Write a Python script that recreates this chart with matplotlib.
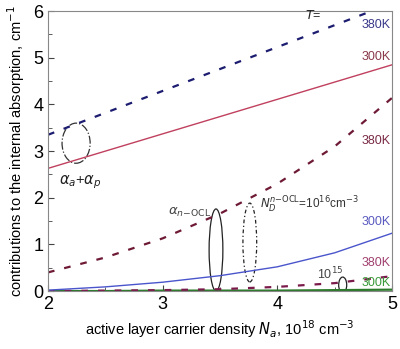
import numpy as np
import matplotlib.pyplot as plt
from matplotlib.patches import Ellipse

plt.rcParams['font.family'] = ['Liberation Sans', 'DejaVu Sans']
plt.rcParams['mathtext.fontset'] = 'dejavusans'

# --- Data ---
n_a = [2.0, 2.5, 3.0, 3.5, 4.0, 4.5, 5.0]

# alpha_a + alpha_p
ap_380 = [3.35, 3.82, 4.29, 4.76, 5.23, 5.70, 6.17]
ap_300 = [2.63, 3.00, 3.37, 3.74, 4.11, 4.48, 4.85]

# alpha_n-OCL, N_D = 1e16
nocl16_380 = [0.40, 0.72, 1.13, 1.66, 2.30, 3.10, 4.14]
nocl16_300 = [0.02, 0.09, 0.19, 0.33, 0.52, 0.82, 1.24]

# alpha_n-OCL, N_D = 1e15
nocl15_380 = [0.00, 0.01, 0.02, 0.04, 0.09, 0.17, 0.32]
nocl15_300 = [0.00, 0.00, 0.01, 0.01, 0.01, 0.02, 0.03]

fig = plt.figure(figsize=(4.0, 3.49), dpi=100)
ax = fig.add_axes([0.12, 0.166, 0.86, 0.802])

ax.plot(n_a, nocl15_300, color='#2a7a2a', lw=1.6)
ax.plot(n_a, nocl15_380, color='#7a1a4a', lw=1.6, dashes=(3, 4.5))
ax.plot(n_a, nocl16_300, color='#4a55cc', lw=1.0)
ax.plot(n_a, nocl16_380, color='#6e1a35', lw=1.6, dashes=(3, 4.5))
ax.plot(n_a, ap_300, color='#c0405e', lw=1.0)
ax.plot(n_a, ap_380, color='#1c1c70', lw=1.6, dashes=(3, 4.5))

# ellipses marking groups of curves
ax.add_patch(Ellipse((2.245, 3.17), 0.245, 0.86, fill=False, ec='#333333', lw=0.9, ls='-.'))
ax.add_patch(Ellipse((3.465, 0.88), 0.12, 1.76, fill=False, ec='#222222', lw=0.9))
ax.add_patch(Ellipse((3.76, 1.04), 0.12, 1.69, fill=False, ec='#222222', lw=0.9, ls=(0, (3, 2, 1, 2))))
ax.add_patch(Ellipse((4.57, 0.13), 0.07, 0.34, fill=False, ec='#222222', lw=0.9))

# text labels
ax.text(4.31, 5.91, '$T$=', fontsize=9, color='#222222', ha='center', va='center')
ax.text(4.99, 5.70, '380K', fontsize=9, color='#3a3a8a', ha='right', va='center')
ax.text(4.99, 5.01, '300K', fontsize=9, color='#8a3a4a', ha='right', va='center')
ax.text(4.99, 3.21, '380K', fontsize=9, color='#7a2a45', ha='right', va='center')
ax.text(4.99, 1.48, '300K', fontsize=9, color='#5a5ac0', ha='right', va='center')
ax.text(4.99, 0.60, '380K', fontsize=9, color='#a04070', ha='right', va='center')
ax.text(4.99, 0.17, '300K', fontsize=9, color='#3a9a3a', ha='right', va='center')
ax.text(4.46, 0.36, '10$^{15}$', fontsize=9, color='#444444', ha='center', va='center')
ax.text(3.85, 1.84, '$N_D^{n\\mathrm{-OCL}}$=10$^{16}$cm$^{-3}$', fontsize=8.5,
        color='#333333', ha='left', va='center')
ax.text(3.05, 1.69, '$\\alpha_{n\\mathrm{-OCL}}$', fontsize=9.5, color='#444444',
        ha='left', va='center')
ax.text(2.1, 2.33, '$\\alpha_a$+$\\alpha_p$', fontsize=10.5, color='#222222',
        ha='left', va='center')

ax.set_xlim(2, 5)
ax.set_ylim(0, 6)
ax.set_xticks([2, 3, 4, 5])
ax.set_yticks([0, 1, 2, 3, 4, 5, 6])
ax.set_xticks(np.arange(2.5, 5, 1.0), minor=True)
ax.set_yticks(np.arange(0.5, 6, 1.0), minor=True)
ax.tick_params(which='both', direction='in', labelsize=13, color='#444444')
ax.tick_params(which='major', length=4)
ax.tick_params(which='minor', length=3)
for s in ax.spines.values():
    s.set_color('#888888')

ax.set_xlabel('active layer carrier density $N_a$, 10$^{18}$ cm$^{-3}$', fontsize=10.5)
ax.set_ylabel('contributions to the internal absorption, cm$^{-1}$', fontsize=10.5)

fig.savefig('out.png', dpi=100)
